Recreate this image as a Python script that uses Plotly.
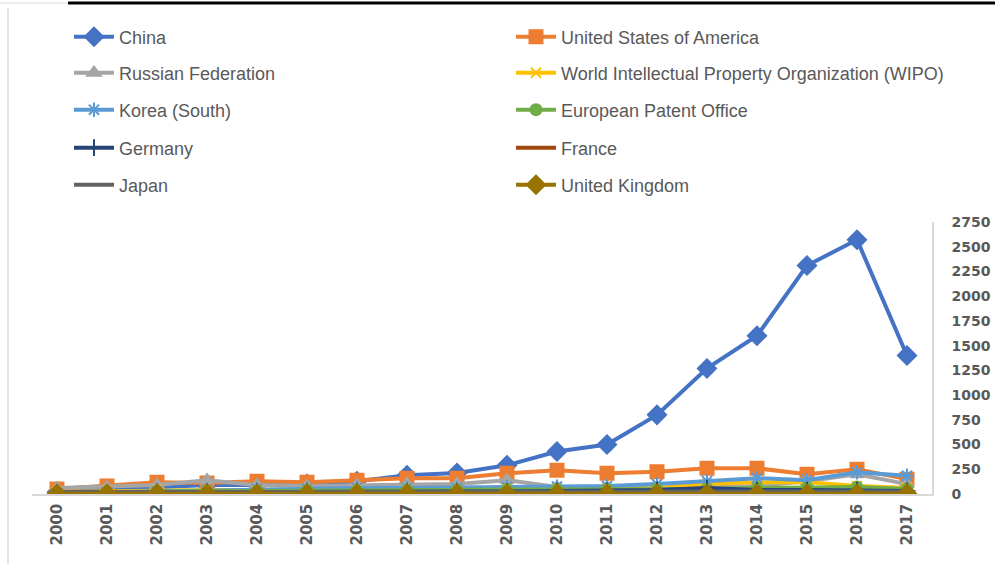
import plotly.graph_objects as go

years = [str(y) for y in range(2000, 2018)]

china = [20, 40, 70, 90, 90, 100, 130, 190, 212, 290, 430, 500, 800, 1270, 1600, 2310, 2570, 1400]
usa = [50, 80, 120, 110, 130, 120, 140, 160, 160, 210, 240, 210, 225, 260, 260, 200, 250, 150]
russia = [60, 70, 90, 140, 90, 80, 90, 100, 100, 140, 70, 70, 60, 70, 80, 130, 200, 100]
wipo = [20, 30, 40, 40, 40, 40, 50, 50, 50, 60, 50, 50, 60, 100, 120, 120, 80, 60]
korea = [10, 20, 30, 40, 50, 50, 60, 60, 60, 70, 75, 80, 100, 130, 160, 140, 220, 185]
epo = [10, 20, 25, 30, 30, 35, 35, 40, 40, 45, 45, 45, 50, 50, 60, 60, 70, 50]
germany = [10, 15, 20, 20, 20, 20, 25, 25, 25, 25, 30, 30, 40, 60, 40, 40, 40, 30]
france = [5, 10, 10, 10, 10, 10, 10, 15, 15, 15, 15, 15, 20, 20, 20, 20, 20, 15]
japan = [20, 20, 20, 20, 20, 20, 20, 20, 20, 25, 25, 25, 30, 30, 30, 30, 30, 25]
uk = [3, 3, 3, 3, 3, 3, 3, 3, 3, 3, 3, 3, 3, 3, 3, 3, 3, 3]

series = [
    ("China", china, "#4472C4", "diamond", 14),
    ("United States of America", usa, "#ED7D31", "square", 13),
    ("Russian Federation", russia, "#A5A5A5", "triangle-up", 12),
    ("World Intellectual Property Organization (WIPO)", wipo, "#FFC000", "x-thin", 10),
    ("Korea (South)", korea, "#5B9BD5", "asterisk", 12),
    ("European Patent Office", epo, "#70AD47", "circle", 11),
    ("Germany", germany, "#264478", "cross-thin", 12),
    ("France", france, "#9E480E", "line-ew", 10),
    ("Japan", japan, "#636363", "line-ew", 10),
    ("United Kingdom", uk, "#997300", "diamond", 14),
]

# plot area in pixels
L, R, T, B = 32, 932, 222, 494
W, H = R - L, B - T

def px(x):
    return (x - L) / W

def py(y):
    return (B - y) / H

fig = go.Figure()
legend_rows = [37, 73, 110, 148, 185]
layout_legends = {}
for i, (name, vals, color, sym, size) in enumerate(series):
    lname = "legend" if i == 0 else f"legend{i+1}"
    col = i % 2
    row = i // 2
    fig.add_trace(go.Scatter(
        x=years, y=vals, name=name, mode="lines+markers",
        line=dict(color=color, width=4),
        marker=dict(symbol=sym, size=size, color=color,
                    line=dict(color=color, width=2)),
        legend=lname,
    ))
    layout_legends[lname] = dict(
        x=px(69 if col == 0 else 511), xanchor="left",
        y=py(legend_rows[row]), yanchor="middle",
        font=dict(family="Liberation Sans", size=18, color="#595959"),
        bgcolor="rgba(0,0,0,0)", itemwidth=40,
    )

fig.update_layout(
    width=995, height=564,
    margin=dict(l=L, r=995 - R, t=T, b=564 - B, autoexpand=False),
    paper_bgcolor="white", plot_bgcolor="white",
    showlegend=True,
    **layout_legends,
    xaxis=dict(
        type="category", range=[-0.5, len(years) - 0.5], automargin=False,
        showgrid=False, zeroline=False,
        showline=True, linecolor="#D9D9D9", linewidth=1.5,
        tickangle=-90, ticks="", ticklabelstandoff=2,
        tickfont=dict(family="DejaVu Sans", size=15, color="#595959", weight="bold"),
    ),
    yaxis=dict(
        side="right", range=[0, 2750], dtick=250, automargin=False,
        showgrid=False, zeroline=False,
        showline=True, linecolor="#D9D9D9", linewidth=1.5, ticks="",
        ticklabelstandoff=15,
        tickfont=dict(family="DejaVu Sans", size=14, color="#595959", weight="bold"),
    ),
    shapes=[
        dict(type="line", xref="paper", yref="paper", x0=px(68), x1=px(995), y0=py(3), y1=py(3),
             line=dict(color="black", width=3)),
        dict(type="line", xref="paper", yref="paper", x0=px(0), x1=px(68), y0=py(3), y1=py(3),
             line=dict(color="#E6E6E6", width=1.5)),
        dict(type="line", xref="paper", yref="paper", x0=px(8), x1=px(8), y0=py(8), y1=py(564),
             line=dict(color="#D9D9D9", width=1.5)),
    ],
)

fig.write_html("out.html")
